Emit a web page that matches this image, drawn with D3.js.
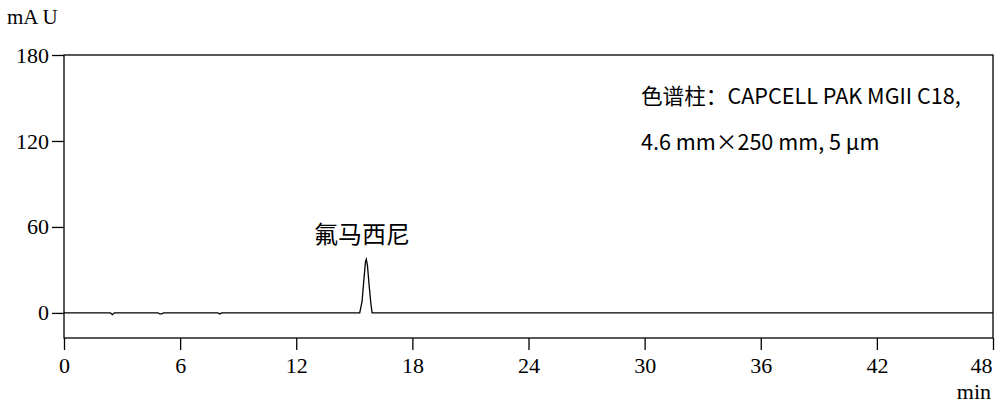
<!DOCTYPE html>
<html>
<head>
<meta charset="utf-8">
<script src="https://cdn.jsdelivr.net/npm/d3@7"></script>
<style>
  body { margin: 0; background: #fff; }
  .axis text { font-family: "Liberation Serif", serif; font-size: 22px; fill: #000; }
  .axis path, .axis line { stroke: #000; stroke-width: 1.3; }
</style>
</head>
<body>
<div id="chart"></div>
<script>
// chromatogram trace, time (min) vs absorbance (mAU)
var times  = [0, 2.4, 2.5, 2.6, 4.85, 4.95, 5.05, 5.15, 7.95, 8.05, 8.15,
              15.28, 15.4, 15.5, 15.58, 15.62, 15.68, 15.76, 15.86, 15.92, 48];
var signal = [0, 0, -1.2, 0, 0, -0.6, -0.6, 0, 0, -0.7, 0,
              0, 8, 24, 36, 37.5, 33, 20, 6, 0, 0];

var xTicks = [0, 6, 12, 18, 24, 30, 36, 42, 48];
var yTicks = [0, 60, 120, 180];

var peakName = "氟马西尼";
var peakTime = 15.6;
var columnInfo = ["色谱柱：CAPCELL PAK MGII C18,", "4.6 mm×250 mm, 5 μm"];

var W = 1001, H = 408;
var margin = {top: 55, right: 8, bottom: 70, left: 64};

var svg = d3.select("#chart").append("svg")
  .attr("width", W)
  .attr("height", H);

var x = d3.scaleLinear()
  .domain([0, 48])
  .range([margin.left, W - margin.right]);

var y = d3.scaleLinear()
  .domain([-17.5, 180])
  .range([H - margin.bottom, margin.top]);

// frame
svg.append("rect")
  .attr("x", x(0))
  .attr("y", y(180))
  .attr("width", x(48) - x(0))
  .attr("height", y(-17.5) - y(180))
  .attr("fill", "none")
  .attr("stroke", "#000")
  .attr("stroke-width", 1.3);

// x axis
var gx = svg.append("g")
  .attr("class", "axis")
  .attr("transform", "translate(0," + y(-17.5) + ")")
  .call(d3.axisBottom(x).tickValues(xTicks).tickSize(12).tickSizeOuter(0).tickPadding(7));
gx.select(".domain").remove();
// last label sits flush against the right edge
gx.selectAll(".tick text")
  .filter(d => d === 48)
  .attr("text-anchor", "end")
  .attr("x", -1);

// y axis
svg.append("g")
  .attr("class", "axis")
  .attr("transform", "translate(" + x(0) + ",0)")
  .call(d3.axisLeft(y).tickValues(yTicks).tickSize(12).tickSizeOuter(0).tickPadding(3))
  .call(g => g.select(".domain").remove());

// trace
var pts = times.map((t, i) => [t, signal[i]]);
svg.append("path")
  .datum(pts)
  .attr("fill", "none")
  .attr("stroke", "#000")
  .attr("stroke-width", 1.3)
  .attr("d", d3.line().x(d => x(d[0])).y(d => y(d[1])));

// unit labels
svg.append("text")
  .attr("x", 7)
  .attr("y", 24)
  .style("font-family", "Liberation Serif, serif")
  .style("font-size", "21px")
  .text("mA U");

svg.append("text")
  .attr("x", 991)
  .attr("y", 399)
  .attr("text-anchor", "end")
  .style("font-family", "Liberation Serif, serif")
  .style("font-size", "22px")
  .text("min");

// peak label
svg.append("text")
  .attr("x", x(peakTime) - 4)
  .attr("y", 243)
  .attr("text-anchor", "middle")
  .style("font-family", "Noto Sans CJK SC")
  .style("font-size", "24px")
  .text(peakName);

// column note
svg.selectAll(".note")
  .data(columnInfo)
  .enter().append("text")
  .attr("class", "note")
  .attr("x", 641)
  .attr("y", (d, i) => 104 + i * 46)
  .style("font-family", "Noto Sans CJK SC")
  .style("font-size", "21.6px")
  .text(d => d);
</script>
</body>
</html>
